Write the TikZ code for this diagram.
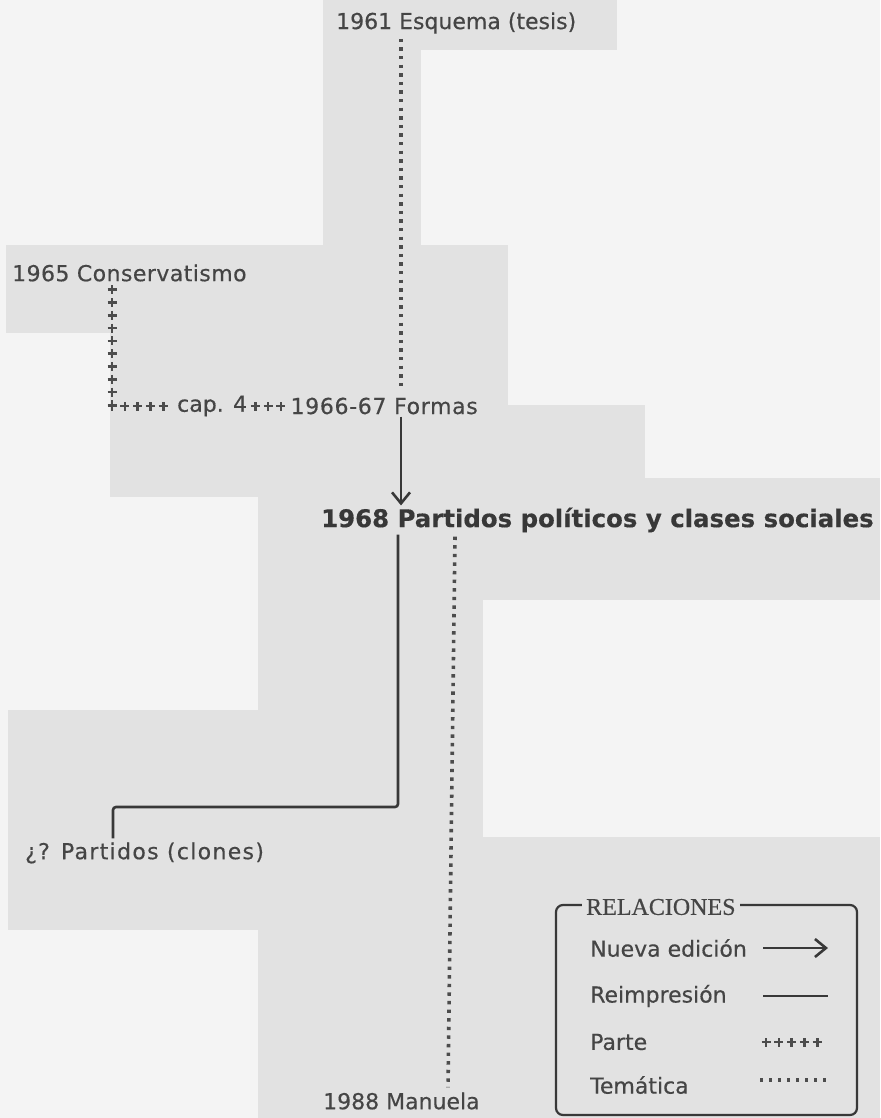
\documentclass[tikz,border=0pt]{standalone}
\usepackage{fontspec}
\setmainfont{DejaVu Sans}[FakeBold=0.4]
\newfontfamily\legserif{Liberation Serif}[FakeBold=0.5]
\usetikzlibrary{arrows.meta,decorations.markings}
\definecolor{bgc}{HTML}{F4F4F4}
\definecolor{blk}{HTML}{E2E2E2}
\definecolor{ink}{HTML}{383838}
\definecolor{txt}{HTML}{454545}
\newcommand\mytxt{\fontsize{22pt}{26pt}\selectfont\addfontfeature{FakeBold=0.4}}
\newcommand\mybold{\fontsize{24.4pt}{28pt}\selectfont\bfseries}
\tikzset{
  lbl/.style={text=txt, font=\mytxt, inner sep=2pt, anchor=west},
  tematica/.style={draw=ink!90, line width=3.6pt, line cap=butt, dash pattern=on 3.4pt off 5.2pt},
  reimp/.style={draw=ink, line width=2.6pt},
  nueva/.style={draw=ink, line width=2.6pt, -{Straight Barb[length=11pt,width=18pt]}},
  parte/.style={decoration={markings, mark=between positions 0 and 1 step 12.8pt with {\draw[draw=ink!90, line width=2.6pt] (-4.5pt,0)--(4.5pt,0) (0,-4.5pt)--(0,4.5pt);}}, postaction={decorate}},
}
\begin{document}
\begin{tikzpicture}[x=1pt,y=-1pt]
\useasboundingbox (0,0) rectangle (880,1118);
% background
\fill[bgc] (0,0) rectangle (880,1118);
\fill[blk] (323,0) rectangle (617,50);
\fill[blk] (323,50) rectangle (421,245);
\fill[blk] (6,245) rectangle (508,333);
\fill[blk] (110,333) rectangle (508,497);
\fill[blk] (505,405) rectangle (645,478);
\fill[blk] (258,478) rectangle (880,600);
\fill[blk] (258,600) rectangle (483,1118);
\fill[blk] (8,710) rectangle (292,930);
\fill[blk] (483,837) rectangle (880,1118);

% nodes
\node[lbl] (esq) at (334,23) {1961 Esquema (tesis)};
\node[lbl] (cons) at (10,273) {\addfontfeature{LetterSpace=2}1965 Conservatismo};
\node[lbl] (cap) at (175,406) {cap. 4};
\node[lbl, anchor=east] (formas) at (480,406) {\addfontfeature{LetterSpace=3}1966-67 Formas};
\node[lbl, font=\mybold, text=ink] (p68) at (319,520) {1968 Partidos políticos y clases sociales};
\node[lbl] (clones) at (23,853) {\addfontfeature{LetterSpace=6}¿? Partidos (clones)};
\node[lbl] (manuela) at (321,1101) {1988 Manuela};

\coordinate (colA) at (401,0);
\coordinate (colB) at (455,0);
\coordinate (colBb) at (448,0);
\coordinate (pc) at (112,406);
\coordinate (bend1) at (398,807);
\coordinate (bend2) at (113,807);

% connectors
\draw[tematica] ([yshift=-3pt]esq.south -| colA) -- ([yshift=6pt]formas.north -| colA);
\path[parte] ([yshift=-6pt]cons.south -| pc) -- (pc);
\path[parte] (pc) -- ([xshift=-2pt]cap.west);
\path[parte] ([xshift=6pt]cap.east) -- ([xshift=-6pt]formas.west);
\draw[nueva] (formas.south -| colA) -- (p68.north -| colA);
\draw[reimp, rounded corners=3pt] (p68.south -| bend1) -- (bend1) -- (bend2) -- ([yshift=2pt]clones.north -| bend2);
\draw[tematica] ([yshift=-2pt]p68.south -| colB) -- ([yshift=3pt]manuela.north -| colBb);

% legend
\node[draw=ink, line width=2.2pt, rounded corners=7pt, minimum width=301pt, minimum height=210pt] (leg) at (706.5,1010) {};
\node[text=txt, font=\legserif\fontsize{24pt}{28pt}\selectfont, fill=blk, inner sep=4pt, anchor=west] (ltitle) at (582,907) {RELACIONES};
\node[lbl] (l1) at (588,948) {Nueva edición};
\node[lbl] (l2) at (588,996) {Reimpresión};
\node[lbl] (l3) at (588,1042) {Parte};
\node[lbl] (l4) at (588,1085) {Temática};
\coordinate (s1a) at (763,948); \coordinate (s1b) at (828,948);
\coordinate (s2a) at (763,996); \coordinate (s2b) at (828,996);
\coordinate (s3a) at (766,1042); \coordinate (s3b) at (820,1042);
\coordinate (s4a) at (760,1080); \coordinate (s4b) at (830,1080);
\draw[nueva] (s1a) -- (s1b);
\draw[reimp] (s2a) -- (s2b);
\path[parte] (s3a) -- (s3b);
\draw[tematica, line width=3.2pt, dash pattern=on 3pt off 6pt] (s4a) -- (s4b);
\end{tikzpicture}
\end{document}
